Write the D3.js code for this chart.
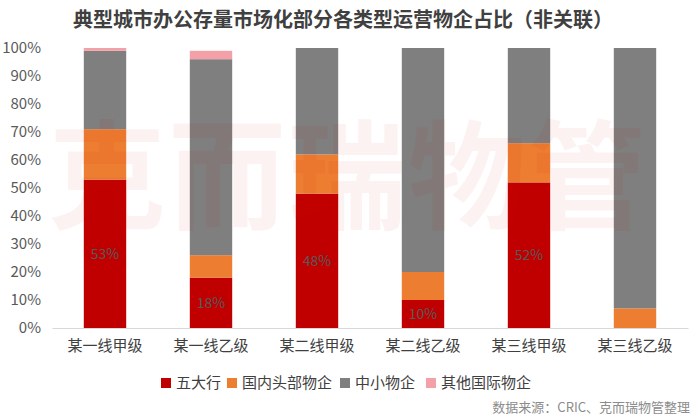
<!DOCTYPE html>
<html>
<head>
<meta charset="utf-8">
<script src="https://cdn.jsdelivr.net/npm/d3@7"></script>
<style>
  body { margin: 0; background: #fff; }
  svg { font-family: "Noto Sans CJK SC", "Noto Sans", sans-serif; }
</style>
</head>
<body>
<svg id="chart" width="700" height="417"></svg>
<script>
var categories = ['某一线甲级', '某一线乙级', '某二线甲级', '某二线乙级', '某三线甲级', '某三线乙级'];
var seriesNames = ['五大行', '国内头部物企', '中小物企', '其他国际物企'];
var wuDaHang = [53, 18, 48, 10, 52, 0];
var guoNei = [18, 8, 14, 10, 14, 7];
var zhongXiao = [28, 70, 38, 80, 34, 93];
var guoJi = [1, 3, 0, 0, 0, 0];
var yTicks = [0, 10, 20, 30, 40, 50, 60, 70, 80, 90, 100];
var colors = ['#C00000', '#ED7D31', '#7F7F7F', '#F4A0A8'];

var svg = d3.select('#chart');
var plotLeft = 52, plotRight = 688, plotTop = 48, plotBottom = 328;

var x = d3.scaleBand().domain(categories).range([plotLeft, plotRight]).paddingInner(0.6).paddingOuter(0.3);
var y = d3.scaleLinear().domain([0, 100]).range([plotBottom, plotTop]);

// title
svg.append('text')
  .attr('x', 343).attr('y', 27)
  .attr('text-anchor', 'middle')
  .attr('font-size', 20).attr('font-weight', 'bold')
  .attr('fill', '#404040')
  .text('典型城市办公存量市场化部分各类型运营物企占比（非关联）');

// stacked data
var rows = categories.map(function(c, i) {
  return { cat: c, s0: wuDaHang[i], s1: guoNei[i], s2: zhongXiao[i], s3: guoJi[i] };
});
var stack = d3.stack().keys(['s0', 's1', 's2', 's3'])(rows);

svg.append('g').selectAll('g')
  .data(stack).enter().append('g')
  .attr('fill', function(d, i) { return colors[i]; })
  .selectAll('rect')
  .data(function(d) { return d; }).enter().append('rect')
  .attr('x', function(d) { return x(d.data.cat); })
  .attr('width', x.bandwidth())
  .attr('y', function(d) { return y(d[1]); })
  .attr('height', function(d) { return y(d[0]) - y(d[1]); });

// y axis
var yAxis = svg.append('g')
  .attr('transform', 'translate(' + (plotLeft - 8) + ',0)')
  .call(d3.axisLeft(y).tickValues(yTicks).tickSize(0).tickFormat(function(d) { return d + '%'; }));
yAxis.select('.domain').remove();
yAxis.selectAll('text').attr('font-size', 15).attr('fill', '#595959')
  .attr('font-family', '"Noto Sans CJK SC", sans-serif');

// x axis
var xAxis = svg.append('g')
  .attr('transform', 'translate(0,' + plotBottom + ')')
  .call(d3.axisBottom(x).tickSize(0).tickPadding(12));
xAxis.select('.domain').attr('stroke', '#D9D9D9');
xAxis.selectAll('text').attr('font-size', 15).attr('fill', '#404040')
  .attr('font-family', '"Noto Sans CJK SC", sans-serif');

// labels in red bars
svg.append('g').selectAll('text')
  .data(rows.filter(function(d) { return d.s0 > 0; })).enter().append('text')
  .attr('x', function(d) { return x(d.cat) + x.bandwidth() / 2; })
  .attr('y', function(d) { return y(d.s0 / 2); })
  .attr('dy', '0.35em')
  .attr('text-anchor', 'middle')
  .attr('font-size', 14)
  .attr('fill', '#595959')
  .text(function(d) { return d.s0 + '%'; });

// watermark
svg.append('text')
  .attr('x', 348).attr('y', 220)
  .attr('text-anchor', 'middle')
  .attr('font-size', 118)
  .attr('font-weight', 'bold')
  .attr('fill', '#E00000')
  .attr('fill-opacity', 0.05)
  .attr('letter-spacing', 2)
  .text('克而瑞物管');

// legend
var legendX = [161, 227, 340, 426];
var lg = svg.append('g').selectAll('g')
  .data(seriesNames).enter().append('g')
  .attr('transform', function(d, i) { return 'translate(' + legendX[i] + ',383)'; });
lg.append('rect').attr('x', 0).attr('y', -5).attr('width', 10).attr('height', 10)
  .attr('fill', function(d, i) { return colors[i]; });
lg.append('text').attr('x', 15).attr('dy', '0.35em')
  .attr('font-size', 15).attr('fill', '#404040')
  .text(function(d) { return d; });

// source
svg.append('text')
  .attr('x', 690).attr('y', 412)
  .attr('text-anchor', 'end')
  .attr('font-size', 13).attr('fill', '#8C8C8C')
  .text('数据来源：CRIC、克而瑞物管整理');
</script>
</body>
</html>
